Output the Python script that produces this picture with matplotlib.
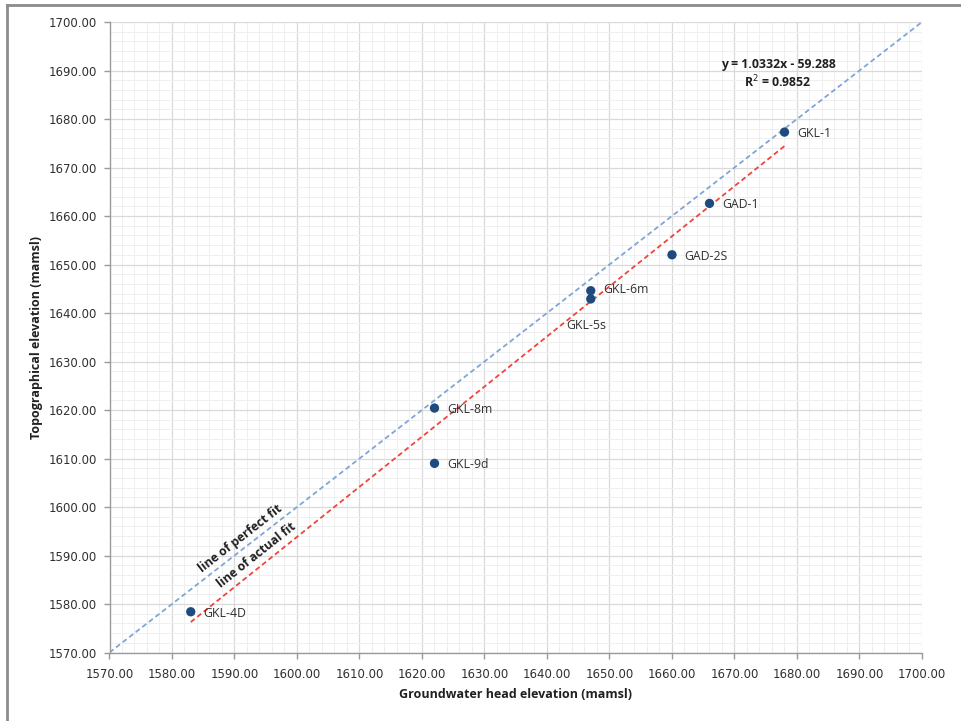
import numpy as np
import matplotlib.pyplot as plt
from matplotlib.ticker import MultipleLocator, FormatStrFormatter
from matplotlib.lines import Line2D

# well data: groundwater head vs topographical elevation (mamsl)
wells = ['GKL-1', 'GAD-1', 'GAD-2S', 'GKL-6m', 'GKL-5s', 'GKL-8m', 'GKL-9d', 'GKL-4D']
head = [1678.0, 1666.0, 1660.0, 1647.0, 1647.0, 1622.0, 1622.0, 1583.0]
topo = [1677.3, 1662.6, 1652.0, 1644.6, 1642.9, 1620.4, 1609.0, 1578.4]

# trendline as reported on the chart
slope = 1.0332
intercept = -59.288
r2 = 0.9852

axis_min, axis_max = 1570.0, 1700.0

plt.rcParams['font.family'] = ['DejaVu Sans']

fig = plt.figure(figsize=(9.62, 7.21), dpi=100)
ax = fig.add_axes([109.5 / 962, 1 - 652.5 / 721, (922 - 109.5) / 962, (652.5 - 22) / 721])

# outer frame (cut at right and bottom like the screenshot)
fig.add_artist(Line2D([7 / 962, 7 / 962], [0, 1 - 4.5 / 721], transform=fig.transFigure,
                      color='#8c8c8c', lw=2))
fig.add_artist(Line2D([7 / 962, 1], [1 - 4.5 / 721, 1 - 4.5 / 721], transform=fig.transFigure,
                      color='#8c8c8c', lw=2))

# line of perfect fit
ax.plot([axis_min, axis_max], [axis_min, axis_max], ls=(0, (2.8, 1.8)), color='#7fa6d6', lw=1.3, zorder=2)

# line of actual fit
xs = np.array([min(head), max(head)])
ax.plot(xs, slope * xs + intercept, ls=(0, (2.8, 1.8)), color='#f0443c', lw=1.3, zorder=2)

ax.scatter(head, topo, s=45, color='#1f4a7e', zorder=3, edgecolors='none')

# point labels
lbl_kw = dict(fontsize=8.8, color='#303030', family='Open Sans', va='center')
for name, x, y in zip(wells, head, topo):
    if name == 'GKL-5s':
        ax.annotate(name, (x, y), xytext=(-3, -19), textcoords='offset points', ha='center', **lbl_kw)
    elif name == 'GKL-6m':
        ax.annotate(name, (x, y), xytext=(9, 1), textcoords='offset points', ha='left', **lbl_kw)
    else:
        ax.annotate(name, (x, y), xytext=(9, -1), textcoords='offset points', ha='left', **lbl_kw)

ax.text(1591.0, 1593.4, 'line of perfect fit', rotation=37.8, rotation_mode='anchor',
        ha='center', va='center', fontsize=8.8, fontweight='bold', family='Open Sans', color='#202020')
ax.text(1593.6, 1590.1, 'line of actual fit', rotation=38.5, rotation_mode='anchor',
        ha='center', va='center', fontsize=8.8, fontweight='bold', family='Open Sans', color='#202020')

eq = 'y = %.4fx - %.3f' % (slope, -intercept)
ax.text(0.823, 0.933, eq, transform=ax.transAxes, ha='center', va='center',
        fontsize=8.8, fontweight='bold', family='Open Sans', color='#202020')
ax.text(0.823, 0.905, 'R$^2$ = %.4f' % r2, transform=ax.transAxes, ha='center', va='center',
        fontsize=8.8, fontweight='bold', family='Open Sans', color='#202020')

ax.set_xlim(axis_min, axis_max)
ax.set_ylim(axis_min, axis_max)
ax.xaxis.set_major_locator(MultipleLocator(10))
ax.yaxis.set_major_locator(MultipleLocator(10))
ax.xaxis.set_minor_locator(MultipleLocator(2))
ax.yaxis.set_minor_locator(MultipleLocator(2))
ax.xaxis.set_major_formatter(FormatStrFormatter('%.2f'))
ax.yaxis.set_major_formatter(FormatStrFormatter('%.2f'))

ax.grid(which='major', color='#dadada', lw=0.9, zorder=0)
ax.grid(which='minor', color='#efefef', lw=0.7, zorder=0)
ax.set_axisbelow(True)

for side in ['top', 'right']:
    ax.spines[side].set_visible(False)
for side in ['left', 'bottom']:
    ax.spines[side].set_color('#9a9a9a')
    ax.spines[side].set_linewidth(1.0)

ax.tick_params(which='major', length=4, width=1, color='#9a9a9a', labelsize=8.5,
               labelcolor='#303030', direction='out')
ax.tick_params(axis='x', pad=7)
ax.tick_params(axis='y', pad=5)
ax.tick_params(which='minor', length=0)

ax.set_xlabel('Groundwater head elevation (mamsl)', fontsize=9, fontweight='bold',
              family='Open Sans', color='#202020', labelpad=5)
ax.set_ylabel('Topographical elevation (mamsl)', fontsize=9, fontweight='bold',
              family='Open Sans', color='#202020', labelpad=4)

fig.savefig('out.png', dpi=100)
plt.close(fig)
